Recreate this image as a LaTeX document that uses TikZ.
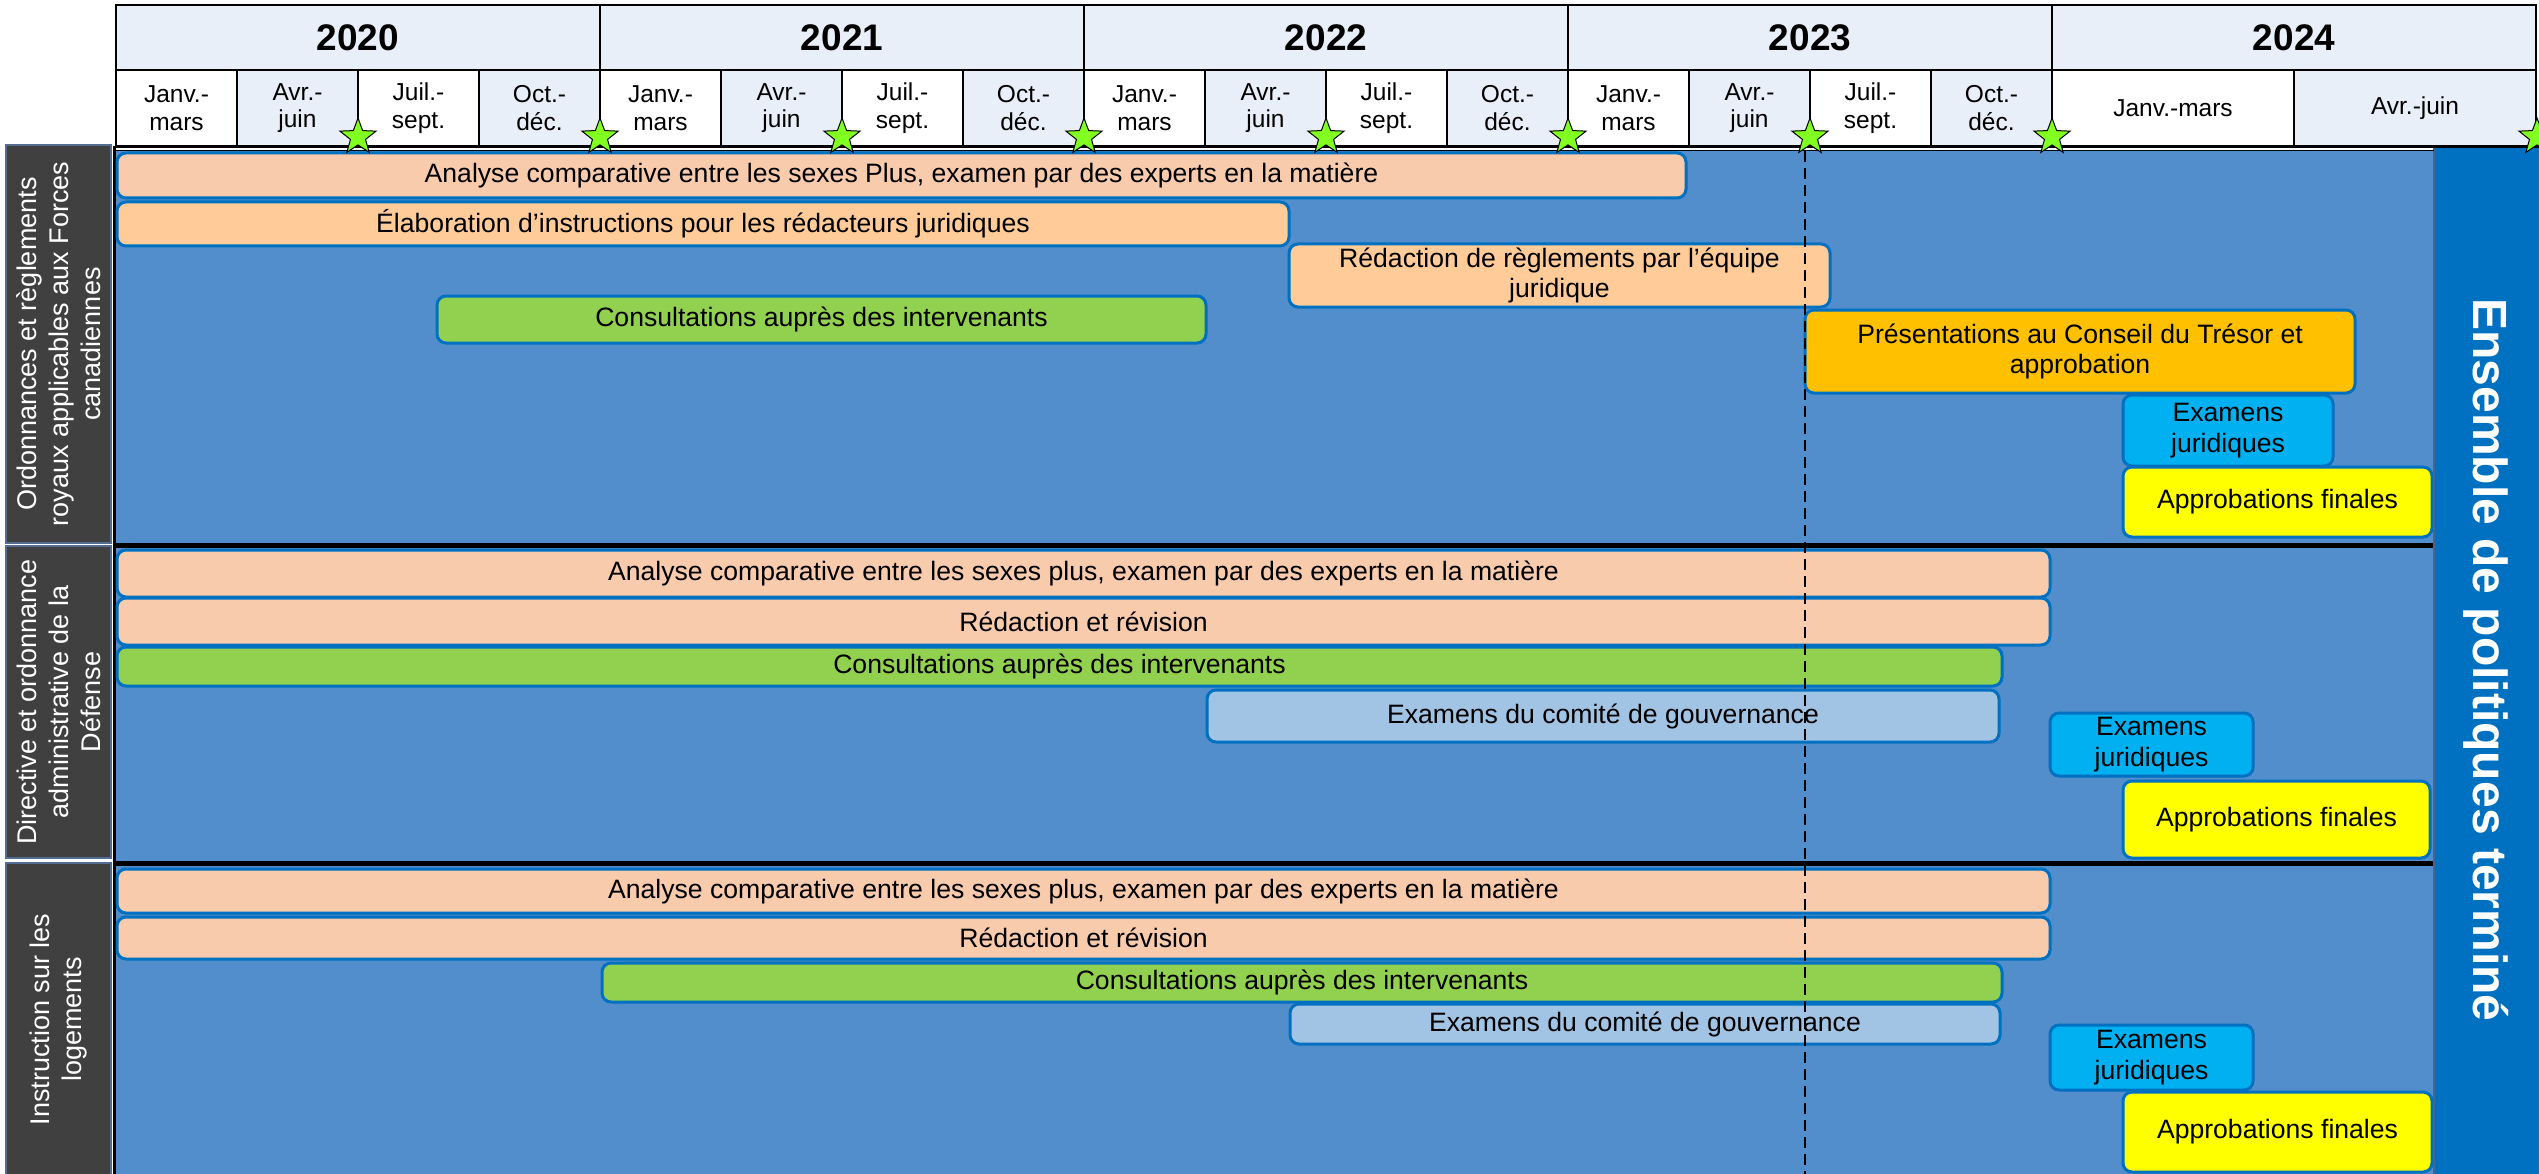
\documentclass[tikz,border=0pt]{standalone}
\usepackage{fontspec}
\setmainfont{Liberation Sans}
\usetikzlibrary{shapes.geometric}

\definecolor{hdrblue}{RGB}{233,239,248}
\definecolor{mainblue}{RGB}{83,142,204}
\definecolor{paneldark}{RGB}{64,64,64}
\definecolor{panelline}{RGB}{84,108,145}
\definecolor{ensblue}{RGB}{0,112,192}
\definecolor{ensline}{RGB}{70,100,140}
\definecolor{barline}{RGB}{0,112,192}
\definecolor{peachA}{RGB}{248,203,173}
\definecolor{peachB}{RGB}{255,204,153}
\definecolor{taskgreen}{RGB}{146,208,80}
\definecolor{taskorange}{RGB}{255,192,0}
\definecolor{taskcyan}{RGB}{0,176,240}
\definecolor{taskyellow}{RGB}{255,255,0}
\definecolor{govblue}{RGB}{162,196,228}
\definecolor{stargreen}{RGB}{128,255,32}

\newcommand\tbar[7]{\node[taskbox,fill=#6,minimum width={(#4-#2)*1pt},minimum height={(#5-#3)*1pt}] (#1) at ({(#2+#4)/2},{(#3+#5)/2}) {#7};}

\begin{document}
\begin{tikzpicture}[x=1pt,y=-1pt,
  qcell/.style={draw=black, line width=2.5pt, inner sep=0pt, align=center, minimum width=121pt, minimum height=76pt, font=\fontsize{24.5}{27.5}\selectfont},
  yearcell/.style={draw=black, line width=2.5pt, fill=hdrblue, inner sep=0pt, minimum width=484pt, minimum height=65pt, font=\fontsize{37}{40}\selectfont\bfseries},
  taskbox/.style={draw=barline, line width=3pt, rounded corners=9pt, inner sep=0pt, align=center, font=\fontsize{26.6}{30.5}\selectfont},
  rowlabel/.style={draw=panelline, line width=2.5pt, fill=paneldark, text=white, inner sep=0pt, align=center, rotate=90, minimum height=105pt, font=\fontsize{27}{32}\selectfont},
  mstar/.style={star, star points=5, star point ratio=2.4, draw=black, line width=1pt, fill=stargreen, minimum size=38pt, inner sep=0pt},
  todayline/.style={draw=black, line width=2.2pt, dash pattern=on 11pt off 6pt},
  sepline/.style={draw=black, line width=5pt},
]
\useasboundingbox (0,0) rectangle (2539,1174);
\fill[white] (0,0) rectangle (2539,1174);

% main area
\fill[mainblue] (116,150) rectangle (2434,1174);
\draw[line width=3pt] (114.5,146) -- (114.5,1174);
\draw[sepline] (116,545) -- (2434,545);
\draw[sepline] (116,863) -- (2434,863);

% section 1
\tbar{a1}{117}{153}{1686}{198}{peachA}{Analyse comparative entre les sexes Plus, examen par des experts en la matière}
\tbar{a2}{117}{202}{1289}{246}{peachB}{Élaboration d’instructions pour les rédacteurs juridiques}
\tbar{a3}{1289}{244}{1830}{307}{peachB}{Rédaction de règlements par l’équipe\\juridique}
\tbar{a4}{437}{296}{1206}{343}{taskgreen}{Consultations auprès des intervenants}
\tbar{a5}{1805}{310}{2355}{393}{taskorange}{Présentations au Conseil du Trésor et\\approbation}
\tbar{a6}{2123}{395}{2333}{466}{taskcyan}{Examens\\juridiques}
\tbar{a7}{2123}{467}{2432}{537}{taskyellow}{Approbations finales}

% section 2
\tbar{b1}{117}{550}{2050}{597}{peachA}{Analyse comparative entre les sexes plus, examen par des experts en la matière}
\tbar{b2}{117}{598}{2050}{645}{peachA}{Rédaction et révision}
\tbar{b3}{117}{647}{2002}{686}{taskgreen}{Consultations auprès des intervenants}
\tbar{b4}{1207}{690}{1999}{742}{govblue}{Examens du comité de gouvernance}
\tbar{b5}{2050}{713}{2253}{776}{taskcyan}{Examens\\juridiques}
\tbar{b6}{2123}{781}{2430}{858}{taskyellow}{Approbations finales}

% section 3
\tbar{c1}{117}{869}{2050}{913}{peachA}{Analyse comparative entre les sexes plus, examen par des experts en la matière}
\tbar{c2}{117}{917}{2050}{959}{peachA}{Rédaction et révision}
\tbar{c3}{602}{963}{2002}{1002}{taskgreen}{Consultations auprès des intervenants}
\tbar{c4}{1290}{1004}{2000}{1044}{govblue}{Examens du comité de gouvernance}
\tbar{c5}{2050}{1025}{2253}{1090}{taskcyan}{Examens\\juridiques}
\tbar{c6}{2123}{1092}{2432}{1172}{taskyellow}{Approbations finales}

% row labels
\node[rowlabel, minimum width=398pt] (r1) at (58.5,344) {Ordonnances et règlements\\royaux applicables aux Forces\\canadiennes};
\node[rowlabel, minimum width=312pt] (r2) at (58.5,702) {Directive et ordonnance\\administrative de la\\Défense};
\node[rowlabel, minimum width=313pt] (r3) at (58.5,1019.5) {Instruction sur les\\logements};

% completion panel
\node[fill=ensblue, draw=ensline, line width=1.5pt, text=white, rotate=-90, inner sep=0pt, minimum width=1031pt, minimum height=105pt, font=\fontsize{48}{52}\selectfont\bfseries] (ens) at (2486.5,660) {Ensemble de politiques terminé};

% header: years
\foreach \yr [count=\i from 0] in {2020,2021,2022,2023,2024}
  \node[yearcell] (y\yr) at ({358+484*\i},37.5) {\yr};

% header: quarters
\foreach \yr [count=\i from 0] in {2020,2021,2022,2023} {
  \foreach \ql/\qf [count=\j from 0] in {{Janv.-\\mars}/white,{Avr.-\\juin}/hdrblue,{Juil.-\\sept.}/white,{Oct.-\\déc.}/hdrblue}
    \node[qcell, fill=\qf] (q\yr-\j) at ({176.5+484*\i+121*\j},108) {\ql};
}
\node[qcell, fill=white, minimum width=242pt] (q2024-0) at (2173,108) {Janv.-mars};
\node[qcell, fill=hdrblue, minimum width=242pt] (q2024-1) at (2415,108) {Avr.-juin};

\draw[line width=2.5pt] (116,147) -- (2539,147);
\draw[line width=1.5pt] (116,150.5) -- (2434,150.5);

% today line
\coordinate (todaytop) at (1805,151);
\coordinate (todaybot) at (1805,1174);
\draw[todayline] (todaytop) -- (todaybot);

% milestone stars
\foreach \sx [count=\k] in {358,600,842,1084,1326,1568,1810,2052,2537}
  \node[mstar] (star\k) at (\sx,137) {};
\end{tikzpicture}
\end{document}
